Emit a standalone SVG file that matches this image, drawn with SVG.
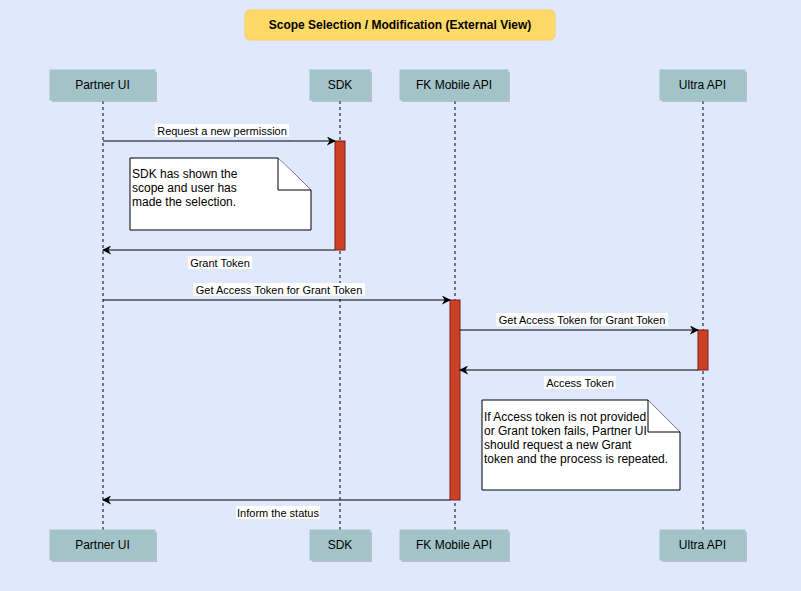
<svg xmlns="http://www.w3.org/2000/svg" width="801" height="591" viewBox="0 0 801 591">
<style>
.part rect.box{fill:#a2c4c9;stroke:#a2c4c9;}
.part rect.sh{fill:#8a9a9c;opacity:0.5;}
.part text{font-family:"Liberation Sans",Arial,sans-serif;font-size:12px;fill:#000;text-anchor:middle;}
.life{stroke:#000;stroke-width:1;stroke-dasharray:3,3;fill:none;}
.act{fill:#cc4125;stroke:#7a1f10;stroke-width:1;}
.msg{stroke:#000;stroke-width:1;fill:none;marker-end:url(#arr);}
.lbl{font-family:"Liberation Sans",Arial,sans-serif;font-size:11px;fill:#000;text-anchor:middle;}
.lblbg{fill:#fff;}
.note path{fill:#fff;stroke:#000;stroke-width:1;}
.note text{font-family:"Liberation Sans",Arial,sans-serif;font-size:12px;fill:#000;}
</style>
<defs>
<marker id="arr" viewBox="0 0 10 10" refX="9" refY="5" markerWidth="9" markerHeight="9" markerUnits="userSpaceOnUse" orient="auto">
<path d="M0,0 L10,5 L0,10 L3,5 Z" fill="#000"/>
</marker>
</defs>
<rect x="0" y="0" width="801" height="591" fill="#dfe8fd"/>
<g id="title">
<rect x="245" y="10" width="310" height="30" rx="5" fill="#ffd966" stroke="#f5d060"/>
<text x="400" y="29" font-family="Liberation Sans,Arial,sans-serif" font-size="12" font-weight="bold" text-anchor="middle">Scope Selection / Modification (External View)</text>
</g>
<g id="lifelines">
<line class="life" x1="103" y1="101" x2="103" y2="530"/>
<line class="life" x1="340" y1="101" x2="340" y2="530"/>
<line class="life" x1="455" y1="101" x2="455" y2="530"/>
<line class="life" x1="703" y1="101" x2="703" y2="530"/>
</g>
<g id="partner-ui-top" class="part"><rect class="sh" x="52" y="72" width="105" height="30"/><rect class="box" x="50" y="70" width="105" height="30"/><text x="102.5" y="89">Partner UI</text></g>
<g id="sdk-top" class="part"><rect class="sh" x="312" y="72" width="60" height="30"/><rect class="box" x="310" y="70" width="60" height="30"/><text x="340" y="89">SDK</text></g>
<g id="fk-top" class="part"><rect class="sh" x="402" y="72" width="108" height="30"/><rect class="box" x="400" y="70" width="108" height="30"/><text x="454" y="89">FK Mobile API</text></g>
<g id="ultra-top" class="part"><rect class="sh" x="662" y="72" width="85" height="30"/><rect class="box" x="660" y="70" width="85" height="30"/><text x="702.5" y="89">Ultra API</text></g>
<g id="partner-ui-bottom" class="part"><rect class="sh" x="52" y="532" width="105" height="30"/><rect class="box" x="50" y="530" width="105" height="30"/><text x="102.5" y="549">Partner UI</text></g>
<g id="sdk-bottom" class="part"><rect class="sh" x="312" y="532" width="60" height="30"/><rect class="box" x="310" y="530" width="60" height="30"/><text x="340" y="549">SDK</text></g>
<g id="fk-bottom" class="part"><rect class="sh" x="402" y="532" width="108" height="30"/><rect class="box" x="400" y="530" width="108" height="30"/><text x="454" y="549">FK Mobile API</text></g>
<g id="ultra-bottom" class="part"><rect class="sh" x="662" y="532" width="85" height="30"/><rect class="box" x="660" y="530" width="85" height="30"/><text x="702.5" y="549">Ultra API</text></g>
<g id="activations">
<rect class="act" x="335" y="141" width="10" height="109"/>
<rect class="act" x="450" y="300" width="10" height="200"/>
<rect class="act" x="698" y="330" width="10" height="40"/>
</g>
<g id="note-sdk" class="note">
<path d="M130,158 L278,158 L311,190 L311,230 L130,230 Z"/>
<path d="M278,158 L278,190 L311,190"/>
<text x="132" y="178">SDK has shown the</text>
<text x="132" y="192">scope and user has</text>
<text x="132" y="206">made the selection.</text>
</g>
<g id="note-retry" class="note">
<path d="M482,400 L648,400 L680,432 L680,490 L482,490 Z"/>
<path d="M648,400 L648,432 L680,432"/>
<text x="484" y="421">If Access token is not provided</text>
<text x="484" y="435">or Grant token fails, Partner UI</text>
<text x="484" y="449">should request a new Grant</text>
<text x="484" y="463">token and the process is repeated.</text>
</g>
<g id="connectors">
<line class="msg" x1="103" y1="141" x2="335" y2="141"/>
<rect class="lblbg" x="155" y="124" width="134" height="13"/>
<text class="lbl" x="222" y="135">Request a new permission</text>
<line class="msg" x1="335" y1="250" x2="103" y2="250"/>
<rect class="lblbg" x="188" y="256" width="64" height="13"/>
<text class="lbl" x="220" y="267">Grant Token</text>
<line class="msg" x1="103" y1="300" x2="450" y2="300"/>
<rect class="lblbg" x="193" y="283" width="172" height="13"/>
<text class="lbl" x="279" y="294">Get Access Token for Grant Token</text>
<line class="msg" x1="460" y1="330" x2="698" y2="330"/>
<rect class="lblbg" x="496" y="313" width="172" height="13"/>
<text class="lbl" x="582" y="324">Get Access Token for Grant Token</text>
<line class="msg" x1="698" y1="370" x2="460" y2="370"/>
<rect class="lblbg" x="544" y="376" width="72" height="13"/>
<text class="lbl" x="580" y="387">Access Token</text>
<line class="msg" x1="450" y1="500" x2="103" y2="500"/>
<rect class="lblbg" x="236" y="506" width="84" height="13"/>
<text class="lbl" x="278" y="517">Inform the status</text>
</g>
</svg>
